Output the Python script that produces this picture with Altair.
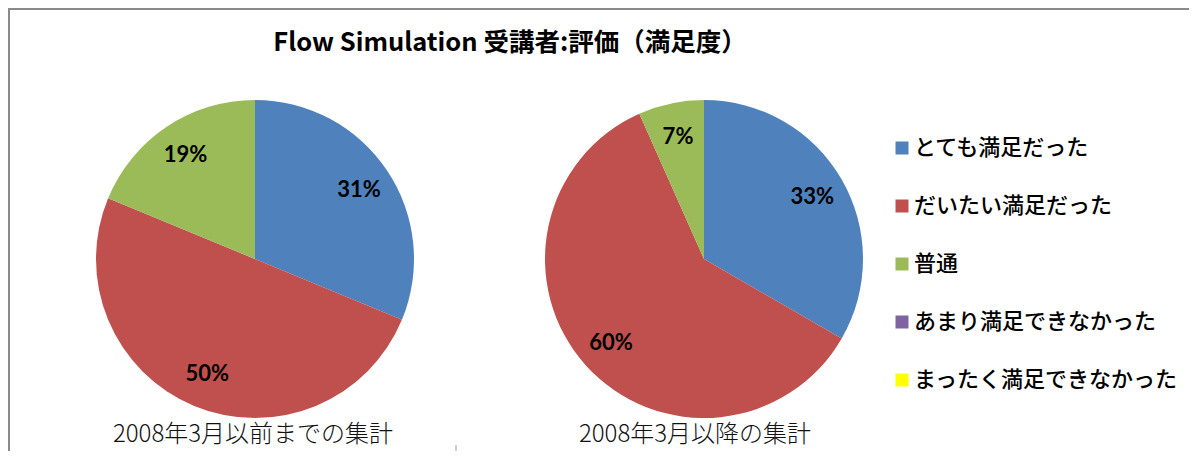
import altair as alt
import pandas as pd

# ---- data ----
categories = ["とても満足だった", "だいたい満足だった", "普通", "あまり満足できなかった", "まったく満足できなかった"]
colors = ["#4F81BD", "#C0504D", "#9BBB59", "#8064A2", "#FFFF00"]
before_counts = [5, 8, 3, 0, 0]   # 2008年3月以前
after_counts = [5, 9, 1, 0, 0]    # 2008年3月以降
groups = ["before", "after"]
subtitles = ["2008年3月以前までの集計", "2008年3月以降の集計"]
title_text = ["Flow Simulation 受講者:評価（満足度）"]

rows = []
for g, counts in zip(groups, [before_counts, after_counts]):
    for i, (c, v) in enumerate(zip(categories, counts)):
        rows.append({"group": g, "category": c, "order": i, "count": v})
df = pd.DataFrame(rows)

W, H = 1181, 443
R = 159
JP = "Noto Sans CJK JP"

legend = alt.Legend(
    title=None, orient="none", legendX=883, legendY=129,
    symbolType="square", symbolSize=169, symbolStrokeWidth=0,
    labelFont=JP, labelFontSize=22, labelFontWeight=500, labelColor="black",
    rowPadding=36, labelOffset=1, padding=0, labelLimit=500,
)
color = alt.Color("category:N", scale=alt.Scale(domain=categories, range=colors),
                  sort=categories, legend=legend)


def pie(group, cx, cy):
    base = alt.Chart(df).transform_filter(alt.datum.group == group)
    arc = base.mark_arc(radius=R).encode(
        theta=alt.Theta("count:Q", stack="normalize"),
        color=color,
        order=alt.Order("order:Q"),
        x=alt.value(cx), y=alt.value(cy),
    )
    txt = base.transform_filter(alt.datum.count > 0).transform_joinaggregate(
        total="sum(count)"
    ).transform_calculate(
        label="format(datum.count / datum.total, '.0%')"
    ).mark_text(radius=125, font="Lato", fontSize=22, fontWeight="bold", color="black").encode(
        theta=alt.Theta("count:Q", stack="normalize"),
        order=alt.Order("order:Q"),
        text="label:N",
        x=alt.value(cx), y=alt.value(cy),
    )
    return arc + txt


pie1 = pie("before", 247, 251)
pie2 = pie("after", 696, 251)

title = alt.Chart(pd.DataFrame({"t": title_text})).mark_text(
    font=JP, fontSize=25.5, fontWeight="bold", color="black", align="center", baseline="middle",
).encode(text="t:N", x=alt.value(502), y=alt.value(35))

sub1 = alt.Chart(pd.DataFrame({"t": [subtitles[0]]})).mark_text(
    font=JP, fontSize=24, fontWeight=300, color="#111111", align="center", baseline="middle"
).encode(text="t:N", x=alt.value(245), y=alt.value(427))

sub2 = alt.Chart(pd.DataFrame({"t": [subtitles[1]]})).mark_text(
    font=JP, fontSize=24, fontWeight=300, color="#111111", align="center", baseline="middle"
).encode(text="t:N", x=alt.value(687), y=alt.value(427))

dummy = pd.DataFrame({"a": [0]})
border_left = alt.Chart(dummy).mark_rule(color="#8a8a8a", strokeWidth=2).encode(
    x=alt.value(1), y=alt.value(0), y2=alt.value(H))
border_top = alt.Chart(dummy).mark_rule(color="#8a8a8a", strokeWidth=2).encode(
    x=alt.value(0), x2=alt.value(W), y=alt.value(1))
tick = alt.Chart(dummy).mark_rule(color="#999999", strokeWidth=1).encode(
    x=alt.value(448), y=alt.value(437), y2=alt.value(443))

chart = alt.layer(border_left, border_top, tick, pie1, pie2, title, sub1, sub2).properties(
    width=W, height=H, autosize=alt.AutoSizeParams(type="none"), padding=0,
    background="white",
).configure_view(stroke=None)

chart.save("out.html", embed_options={"renderer": "svg", "actions": False})
